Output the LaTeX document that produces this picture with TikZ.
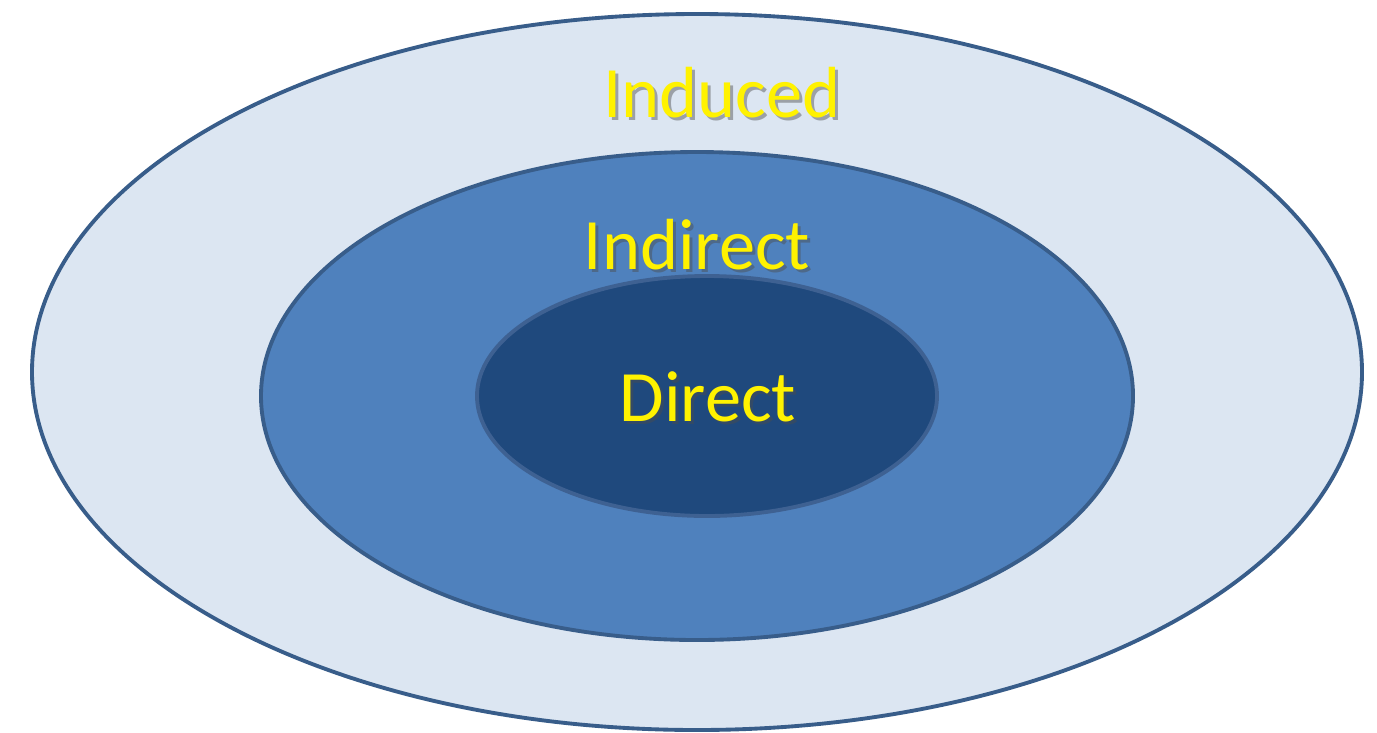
\documentclass[tikz,border=0pt]{standalone}
\usepackage{fontspec}
\setmainfont{Carlito}
\usepackage{tikz}
\usetikzlibrary{shapes.geometric}

\definecolor{ringline}{HTML}{385D8A}
\definecolor{outerfill}{HTML}{DCE6F2}
\definecolor{midfill}{HTML}{4F81BD}
\definecolor{innerfill}{HTML}{1F497D}
\definecolor{innerline}{HTML}{3E6192}

\begin{document}
\begin{tikzpicture}[
    % Ring Styles
    ring/.style={ellipse, draw=ringline, line width=1.1pt, inner sep=0pt, outer sep=0pt},
    % Label Styles
    tag/.style={text=yellow, font=\fontsize{20.6}{24}\selectfont, inner sep=0pt},
    tagshadow/.style={text=black!70, opacity=0.45, font=\fontsize{20.6}{24}\selectfont, inner sep=0pt}
]
    \useasboundingbox (0,0) rectangle (13.77,7.32);

    % Rings
    \node [ring, fill=outerfill, minimum width=13.3cm, minimum height=7.16cm] (induced) at (6.97,3.60) {};
    \node [ring, fill=midfill, minimum width=8.72cm, minimum height=4.88cm] (indirect) at (6.97,3.36) {};
    \node [ring, fill=innerfill, draw=innerline, minimum width=4.60cm, minimum height=2.40cm] (direct) at (7.07,3.36) {};

    % Labels with soft shadow
    \node [tagshadow] (induced-sh) at (7.25,6.36) {Induced};
    \node [tag] (induced-txt) at (7.22,6.39) {Induced};
    \node [tagshadow] (indirect-sh) at (7.00,4.84) {Indirect};
    \node [tag] (indirect-txt) at (6.97,4.87) {Indirect};
    \node [tagshadow] (direct-sh) at (7.11,3.32) {Direct};
    \node [tag] (direct-txt) at (7.08,3.35) {Direct};
\end{tikzpicture}
\end{document}
